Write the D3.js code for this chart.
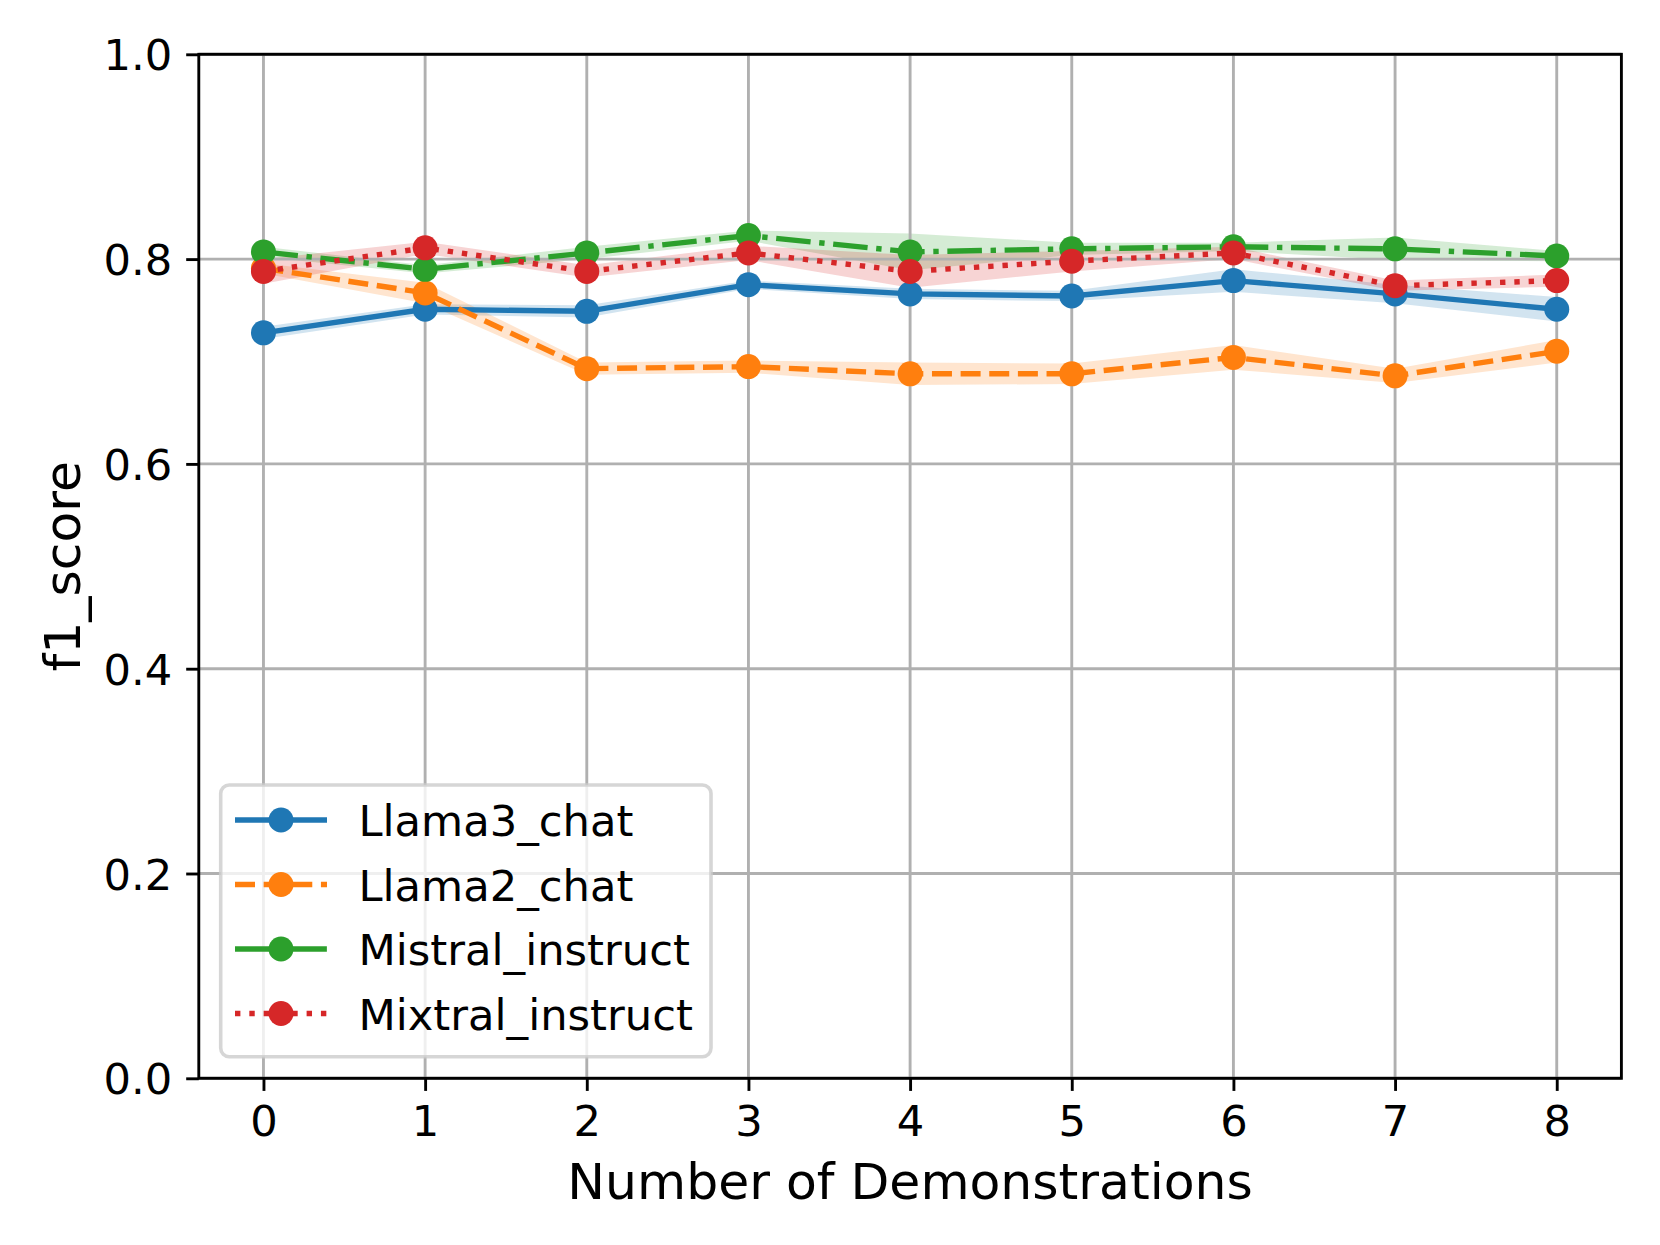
<!DOCTYPE html>
<html>
<head>
<meta charset="utf-8">
<script src="https://cdn.jsdelivr.net/npm/d3@7"></script>
<style>
  body { margin: 0; background: #fff; }
  svg { display: block; font-family: "DejaVu Sans", sans-serif; }
</style>
</head>
<body>
<div id="chart"></div>
<script>
const STEPS = [0, 1, 2, 3, 4, 5, 6, 7, 8];

const LLAMA3 = [0.728, 0.751, 0.749, 0.775, 0.766, 0.764, 0.779, 0.766, 0.751];
const LLAMA3_ERR = [0.006, 0.005, 0.006, 0.004, 0.005, 0.005, 0.011, 0.009, 0.012];

const LLAMA2 = [0.791, 0.767, 0.693, 0.695, 0.688, 0.688, 0.704, 0.686, 0.710];
const LLAMA2_ERR = [0.005, 0.010, 0.006, 0.006, 0.011, 0.010, 0.012, 0.007, 0.011];

const MISTRAL = [0.807, 0.790, 0.806, 0.823, 0.807, 0.810, 0.812, 0.810, 0.803];
const MISTRAL_ERR = [0.005, 0.004, 0.006, 0.005, 0.018, 0.006, 0.004, 0.011, 0.005];

const MIXTRAL = [0.788, 0.811, 0.788, 0.806, 0.788, 0.798, 0.806, 0.774, 0.779];
const MIXTRAL_ERR = [0.012, 0.006, 0.006, 0.007, 0.016, 0.010, 0.006, 0.005, 0.006];

const NAMES = ["Llama3_chat", "Llama2_chat", "Mistral_instruct", "Mixtral_instruct"];
const Y_TICKS = [0, 0.2, 0.4, 0.6, 0.8, 1.0];

const W = 1660, H = 1245;
const PLOT = { left: 198.8, right: 1621.4, top: 54.3, bottom: 1078.3 };
const PT = 259.4 / 72;   // pixels per point

const SERIES = [
    { name: NAMES[0], mean: LLAMA3, err: LLAMA3_ERR, color: "#1f77b4", dash: null },
    { name: NAMES[1], mean: LLAMA2, err: LLAMA2_ERR, color: "#ff7f0e", dash: [3.7, 1.6] },
    { name: NAMES[2], mean: MISTRAL, err: MISTRAL_ERR, color: "#2ca02c", dash: [6.4, 1.6, 1, 1.6] },
    { name: NAMES[3], mean: MIXTRAL, err: MIXTRAL_ERR, color: "#d62728", dash: [1, 1.65] },
];

const LW = 1.5 * PT;
const dashArray = d => d ? d.map(v => v * 1.5 * PT).join(",") : null;

const svg = d3.select("#chart")
    .append("svg")
        .attr("width", W)
        .attr("height", H);

const x = d3.scaleLinear()
    .domain([-0.4, 8.4])
    .range([PLOT.left, PLOT.right]);

const y = d3.scaleLinear()
    .domain([0, 1])
    .range([PLOT.bottom, PLOT.top]);

// BANDS
SERIES.forEach(s => {
    const area = d3.area()
        .x((d, i) => x(STEPS[i]))
        .y0((d, i) => y(s.mean[i] - s.err[i]))
        .y1((d, i) => y(s.mean[i] + s.err[i]));
    svg.append("path")
        .attr("d", area(s.mean))
        .attr("fill", s.color)
        .attr("fill-opacity", 0.2);
});

// GRID
const grid = svg.append("g")
    .attr("stroke", "#b0b0b0")
    .attr("stroke-width", 0.8 * PT);
grid.selectAll(".gx").data(STEPS).enter()
    .append("line")
    .attr("x1", d => x(d)).attr("x2", d => x(d))
    .attr("y1", PLOT.top).attr("y2", PLOT.bottom);
grid.selectAll(".gy").data(Y_TICKS).enter()
    .append("line")
    .attr("y1", d => y(d)).attr("y2", d => y(d))
    .attr("x1", PLOT.left).attr("x2", PLOT.right);

// LINES + MARKERS
SERIES.forEach(s => {
    const line = d3.line()
        .x((d, i) => x(STEPS[i]))
        .y(d => y(d));
    svg.append("path")
        .attr("d", line(s.mean))
        .attr("fill", "none")
        .attr("stroke", s.color)
        .attr("stroke-width", LW)
        .attr("stroke-dasharray", dashArray(s.dash));
    svg.append("g").selectAll("circle")
        .data(s.mean).enter()
        .append("circle")
        .attr("cx", (d, i) => x(STEPS[i]))
        .attr("cy", d => y(d))
        .attr("r", 12.5)
        .attr("fill", s.color);
});

// AXES
const xAxisCall = d3.axisBottom(x)
    .tickValues(STEPS)
    .tickFormat(d3.format("d"))
    .tickSize(3.5 * PT)
    .tickPadding(14);
const xAxis = svg.append("g")
    .attr("transform", `translate(0, ${PLOT.bottom})`)
    .call(xAxisCall);

const yAxisCall = d3.axisLeft(y)
    .tickValues(Y_TICKS)
    .tickFormat(d3.format(".1f"))
    .tickSize(3.5 * PT)
    .tickPadding(14);
const yAxis = svg.append("g")
    .attr("transform", `translate(${PLOT.left}, 0)`)
    .call(yAxisCall);

[xAxis, yAxis].forEach(a => {
    a.select(".domain").remove();
    a.selectAll(".tick line").attr("stroke", "#000").attr("stroke-width", 0.8 * PT);
    a.selectAll(".tick text")
        .attr("fill", "#000")
        .style("font-family", "DejaVu Sans")
        .style("font-size", (12 * PT) + "px");
});
yAxis.selectAll(".tick text").attr("dy", "0.36em");

// SPINES
svg.append("rect")
    .attr("x", PLOT.left)
    .attr("y", PLOT.top)
    .attr("width", PLOT.right - PLOT.left)
    .attr("height", PLOT.bottom - PLOT.top)
    .attr("fill", "none")
    .attr("stroke", "#000")
    .attr("stroke-width", 0.8 * PT);

// AXIS LABELS
svg.append("text")
    .attr("x", (PLOT.left + PLOT.right) / 2)
    .attr("y", 1199)
    .attr("text-anchor", "middle")
    .style("font-size", (14 * PT) + "px")
    .text("Number of Demonstrations");

svg.append("text")
    .attr("transform", `translate(80, ${(PLOT.top + PLOT.bottom) / 2}) rotate(-90)`)
    .attr("text-anchor", "middle")
    .style("font-size", (14 * PT) + "px")
    .text("f1_score");

// LEGEND
const legend = svg.append("g");
legend.append("rect")
    .attr("x", 220.7)
    .attr("y", 785)
    .attr("width", 490.3)
    .attr("height", 271.7)
    .attr("rx", 8.6)
    .attr("fill", "#fff")
    .attr("fill-opacity", 0.8)
    .attr("stroke", "#cccccc")
    .attr("stroke-opacity", 0.8)
    .attr("stroke-width", PT);

const rows = legend.selectAll(".entry")
    .data(SERIES).enter()
    .append("g")
    .attr("transform", (d, i) => `translate(0, ${820 + i * 64.5})`);
rows.append("line")
    .attr("x1", 235).attr("x2", 327)
    .attr("stroke", d => d.color)
    .attr("stroke-width", LW)
    .attr("stroke-dasharray", d => dashArray(d.dash));
rows.append("circle")
    .attr("cx", 281)
    .attr("r", 12.5)
    .attr("fill", d => d.color);
rows.append("text")
    .attr("x", 358.5)
    .attr("y", 16)
    .style("font-size", (12 * PT) + "px")
    .text(d => d.name);
</script>
</body>
</html>
